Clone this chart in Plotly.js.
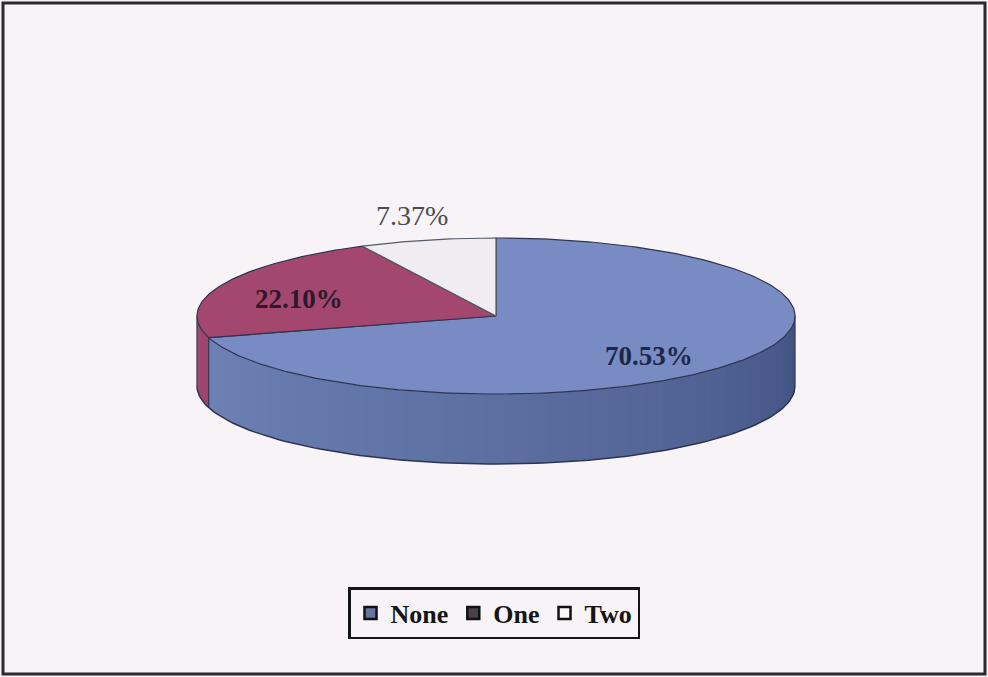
<!DOCTYPE html>
<html>
<head>
<meta charset="utf-8">
<script src="https://cdn.plot.ly/plotly-3.0.1.min.js"></script>
<style>html,body{margin:0;padding:0;background:#f7f3f6;}#chart{width:988px;height:677px;}</style>
</head>
<body>
<div id="chart"></div>
<script>
// ---- data ----
const categories = ['None', 'One', 'Two'];
const values = [70.53, 22.10, 7.37];
const valueLabels = ['70.53%', '22.10%', '7.37%'];

// ---- styles ----
const topColors = ['#788cc3', '#a3476f', '#efedf2'];
const sideLight = [[114, 133, 186], [160, 70, 110], [225, 224, 230]];
const sideDark  = [[62, 80, 126], [140, 58, 95], [200, 200, 205]];
const legendFill = ['#66759f', '#4a4046', '#f7f7f7'];
const labelColors = ['#1f2747', '#2a1a2c', '#4a4a50'];
const labelWeights = ['bold', 'bold', 'normal'];
const labelSizes = [27, 27, 28];
const labelRadius = [0.64, 0.72, 1.22];
const labelYShift = [10, 6, -8];

// ---- geometry of the tilted pie ----
const W = 988, H = 677;
const cx = 496, cy = 316, rx = 299, ry = 78, depth = 70;
const edge = '#2e3450';

function pt(theta, dy) {
  return [cx + rx * Math.sin(theta), cy - ry * Math.cos(theta) + (dy || 0)];
}
function mix(a, b, t) {
  const c = a.map((v, i) => Math.round(v + (b[i] - v) * t));
  return 'rgb(' + c.join(',') + ')';
}

const total = values.reduce((s, v) => s + v, 0);
const starts = [], ends = [];
let acc = 0;
values.forEach(v => {
  starts.push(acc / total * 2 * Math.PI);
  acc += v;
  ends.push(acc / total * 2 * Math.PI);
});

const traces = [];

// side walls (visible front half: theta in [PI/2, 3PI/2])
values.forEach((v, i) => {
  const a0 = Math.max(starts[i], Math.PI / 2);
  const a1 = Math.min(ends[i], 3 * Math.PI / 2);
  if (a1 <= a0) return;
  const steps = Math.max(2, Math.ceil((a1 - a0) / (Math.PI / 45)));
  for (let s = 0; s < steps; s++) {
    const t0 = a0 + (a1 - a0) * s / steps;
    const t1 = Math.min(a1, a0 + (a1 - a0) * (s + 1.3) / steps);
    const xs = [], ys = [];
    const sub = 6;
    for (let k = 0; k <= sub; k++) {
      const p = pt(t0 + (t1 - t0) * k / sub, 0); xs.push(p[0]); ys.push(p[1]);
    }
    for (let k = sub; k >= 0; k--) {
      const p = pt(t0 + (t1 - t0) * k / sub, depth); xs.push(p[0]); ys.push(p[1]);
    }
    // lighting: right (PI/2) dark, left (3PI/2) light
    const tm = ((t0 + t1) / 2 - Math.PI / 2) / Math.PI;
    const col = mix(sideDark[i], sideLight[i], Math.pow(tm, 0.8));
    traces.push({
      type: 'scatter', mode: 'lines', x: xs, y: ys, fill: 'toself',
      fillcolor: col, line: {width: 0},
      showlegend: false, hoverinfo: 'skip'
    });
  }
});

// side outlines: bottom edge, vertical edges
(function () {
  const xs = [], ys = [];
  const n = 120;
  for (let k = 0; k <= n; k++) {
    const p = pt(Math.PI / 2 + Math.PI * k / n, depth); xs.push(p[0]); ys.push(p[1]);
  }
  traces.push({type: 'scatter', mode: 'lines', x: xs, y: ys,
    line: {color: edge, width: 1.5}, showlegend: false, hoverinfo: 'skip'});
  const verts = [Math.PI / 2, 3 * Math.PI / 2];
  ends.forEach(e => { if (e > Math.PI / 2 && e < 3 * Math.PI / 2) verts.push(e); });
  verts.forEach(t => {
    const p0 = pt(t, 0), p1 = pt(t, depth);
    traces.push({type: 'scatter', mode: 'lines', x: [p0[0], p1[0]], y: [p0[1], p1[1]],
      line: {color: edge, width: 1.2}, showlegend: false, hoverinfo: 'skip'});
  });
})();

// top faces
values.forEach((v, i) => {
  const xs = [cx], ys = [cy];
  const n = Math.max(8, Math.ceil((ends[i] - starts[i]) / (Math.PI / 180)));
  for (let k = 0; k <= n; k++) {
    const p = pt(starts[i] + (ends[i] - starts[i]) * k / n, 0); xs.push(p[0]); ys.push(p[1]);
  }
  xs.push(cx); ys.push(cy);
  traces.push({
    type: 'scatter', mode: 'lines', x: xs, y: ys, fill: 'toself',
    fillcolor: topColors[i], line: {color: i === 2 ? '#555a66' : edge, width: 1.2},
    showlegend: false, hoverinfo: 'skip', name: categories[i]
  });
});

// legend entries
categories.forEach((c, i) => {
  traces.push({
    type: 'scatter', mode: 'markers', x: [null], y: [null], name: c,
    marker: {symbol: 'square', size: 12, color: legendFill[i], line: {color: '#111', width: 2.5}},
    showlegend: true, hoverinfo: 'skip'
  });
});

// value labels
const annotations = values.map((v, i) => {
  const mid = (starts[i] + ends[i]) / 2;
  return {
    x: cx + rx * labelRadius[i] * Math.sin(mid),
    y: cy - ry * labelRadius[i] * Math.cos(mid) + labelYShift[i],
    xref: 'x', yref: 'y', showarrow: false, text: valueLabels[i],
    font: {family: 'Liberation Serif, Times New Roman, serif', size: labelSizes[i],
           color: labelColors[i], weight: labelWeights[i]}
  };
});

const layout = {
  width: W, height: H,
  margin: {l: 0, r: 0, t: 0, b: 0},
  paper_bgcolor: '#f7f3f6', plot_bgcolor: '#f7f3f6',
  xaxis: {range: [0, W], visible: false, fixedrange: true},
  yaxis: {range: [H, 0], visible: false, fixedrange: true},
  showlegend: true,
  legend: {
    orientation: 'h', x: 0.5, xanchor: 'center', y: 1 - 587 / H, yanchor: 'top',
    bgcolor: 'rgba(0,0,0,0)', bordercolor: '#151515', borderwidth: 2.5,
    font: {family: 'Liberation Serif, Times New Roman, serif', size: 26, color: '#151515', weight: 'bold'},
    itemwidth: 30, traceorder: 'normal'
  },
  annotations: annotations,
  shapes: [{type: 'rect', xref: 'x', yref: 'y', x0: 3, x1: 985, y0: 3, y1: 674,
            line: {color: '#2b2b2b', width: 3}, layer: 'above'}],
  hovermode: false
};

Plotly.newPlot('chart', traces, layout, {staticPlot: true, displayModeBar: false});
</script>
</body>
</html>
